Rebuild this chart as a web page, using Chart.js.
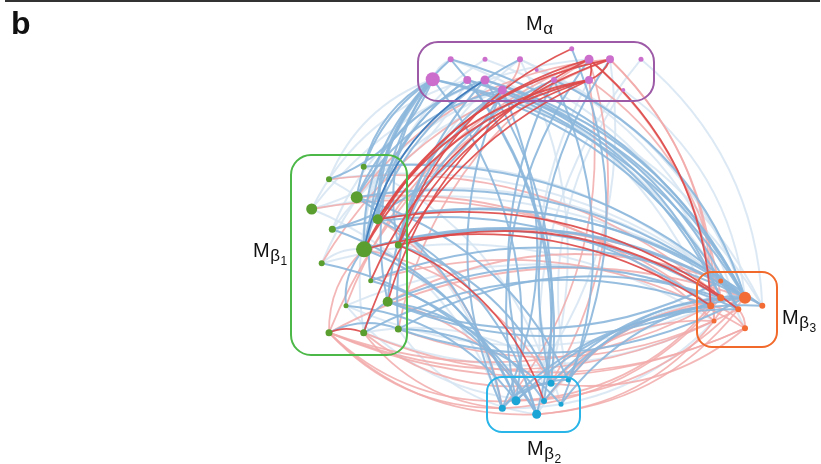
<!DOCTYPE html>
<html><head><meta charset="utf-8">
<script src="https://cdn.jsdelivr.net/npm/chart.js@4"></script>
<style>html,body{margin:0;padding:0;background:#fff;}#wrap{width:821px;height:464px;}</style>
</head><body><div id="wrap"><canvas id="c" width="821" height="464"></canvas></div>
<script>
// ---- nodes (layout coordinates) ----
const alphaX = [450.7,485,520,571.7,589,610,641,536.7,432.7,467.3,485,502.3,554,589,623.3];
const alphaY = [59.3,59.3,59.3,48.7,59.3,59.3,59.3,70,79.3,80,80,90,80,80,90];
const alphaSize = [3,2.5,3,2.5,4.5,4,2.5,2,7,4,4.5,4.5,3,4,2];

const beta1X = [363.7,329,356.7,311.7,377.7,332.3,364,398.3,321.7,370.7,387.7,346,329,363.7,398.3];
const beta1Y = [166.7,179.3,197.3,209,219.3,229.3,249.3,245,263.3,280.7,301.7,305.7,332.7,332.7,329];
const beta1Size = [3,3,6,5.5,5,3.5,8,3.5,3,2.5,5,2.5,3.5,3.5,3.5];

const beta3X = [720.7,720.7,745,710.7,738.3,762.3,714,745];
const beta3Y = [281,297.7,297.7,305.7,309.3,305.7,321,328.3];
const beta3Size = [2.5,3.5,6,3.5,3,3,2.5,3];

const beta2X = [551,568.3,516,502.3,544,561,536.7];
const beta2Y = [383.3,380,400.7,408.3,401,404.3,414.3];
const beta2Size = [3.5,2.5,4.5,3.5,3,2.5,4.5];

// ---- edges: source>target:kind  (B blue, L light blue, P pink, R red, D dark blue) ----
const edgeList = [
 // Mβ1 - Mα
 "g2>a8:B","g4>a8:B","g6>a8:B","g7>a8:B","g0>a8:B","g10>a8:B","g6>a9:B","g4>a9:B","g2>a10:B","g6>a10:B",
 "g7>a11:B","g10>a11:B","g4>a0:B","g6>a0:L","g1>a8:L","g3>a9:L","g5>a10:L","g8>a11:L","g9>a8:B","g14>a10:B",
 "g6>a2:B","g4>a1:L","g2>a11:B","g13>a8:L","g7>a12:B","g10>a2:L","a8>g1:B","a9>g3:L","g6>a10:D","a11>g5:B",
 "g6>a4:R","g4>a5:R","g7>a13:R","g10>a4:R","g2>a5:P","g6>a13:R","g9>a5:R","g14>a4:P","g4>a13:R","g12>a5:P",
 "g11>a4:P","g7>a3:R","g13>a13:R","g8>a5:P","g3>a4:L","g5>a13:L",
 // Mα - Mβ3
 "a8>o2:B","a9>o2:B","a10>o2:B","a11>o1:B","a0>o2:B","a10>o4:B","a11>o5:L","a2>o2:L","a1>o0:L","a8>o5:L",
 "a9>o7:L","a0>o3:L","a12>o2:B","a7>o2:L","a6>o5:L","a14>o2:L","a13>o1:P","a4>o3:R","a5>o6:P","a5>o3:P",
 "a4>o6:P","a8>o4:B","a9>o1:B","a2>o4:L",
 // Mα - Mβ2
 "a8>c2:B","a10>c6:B","a11>c3:B","a0>c0:B","a9>c4:B","c2>a4:B","c6>a12:B","c0>a5:B","a3>c1:B","c5>a13:L",
 "a2>c6:L","c4>a6:L","a13>c3:P","a5>c2:L","a4>c0:P","c3>a11:B","a12>c5:B","c1>a14:L",
 // Mβ1 - Mβ3
 "g2>o2:B","g4>o2:B","g6>o2:B","g6>o1:B","g7>o2:B","g10>o4:B","g3>o5:L","g0>o0:L","g1>o2:L","g5>o3:B",
 "g8>o6:L","g9>o2:B","g14>o1:B","g13>o3:B","g11>o4:L","g4>o4:R","g6>o3:R","g7>o1:R","g10>o0:P","g2>o6:P",
 "g3>o3:P","g1>o1:P","g12>o2:P","g6>o5:P","g9>o7:P","g0>o2:B","g4>o5:B","g2>o0:L",
 "o3>g12:P","o6>g12:P","o7>g13:P","o4>g14:P","o1>g10:B","o3>g11:L","o6>g13:L","o7>g12:P","o2>g14:B","o0>g10:B",
 // Mβ1 - Mβ2
 "c2>g12:P","c3>g12:P","c6>g12:P","c0>g13:P","c6>g14:L","c3>g13:P","c4>g11:L",
 "g6>c2:B","g4>c6:B","g7>c0:B","g2>c3:B","g10>c4:B","g5>c2:B","g9>c6:B","g3>c3:L","g0>c0:L","g8>c6:B",
 "g14>c5:B","g11>c2:B","g7>c4:R","g6>c0:P","g4>c3:P","g10>c6:P","g13>c1:L","g1>c3:L","g2>c1:B",
 // Mβ3 - Mβ2
 "o3>c2:P","o6>c6:P","o1>c3:P","o4>c6:P","o7>c0:P","o2>c2:P","o6>c3:L",
 "c0>o2:B","c1>o1:B","c4>o3:B","c5>o2:B","c2>o5:B","c6>o1:L","c3>o4:B","c0>o6:P","c1>o3:P","c4>o2:P",
 // within modules
 "g12>g13:R","g12>g6:P","g13>g10:B","g12>g14:B","g8>g6:L","g11>g6:B",
 "o6>o2:P","o3>o7:P","o0>o2:L","o1>o5:B","o4>o7:P",
 "a8>a0:L","a4>a13:R","a5>a13:R","a2>a11:P",
 "c3>c0:B","c2>c1:B"
];

const labelTexts = [["M","α",""],["M","β","1"],["M","β","3"],["M","β","2"]];

// ---- build datasets ----
const groups = {a:[alphaX,alphaY,alphaSize], g:[beta1X,beta1Y,beta1Size], o:[beta3X,beta3Y,beta3Size], c:[beta2X,beta2Y,beta2Size]};
const nodeColors = {a:'#cc6fcc', g:'#5a9e2f', o:'#f36b35', c:'#1aa5d6'};
function node(id){const g=groups[id[0]];const i=+id.slice(1);return {x:g[0][i],y:g[1][i]};}
const datasets = Object.keys(groups).map(k=>{
  const g=groups[k];
  return {label:k, data:g[0].map((x,i)=>({x:x,y:g[1][i]})), pointRadius:g[2], pointHoverRadius:g[2],
    backgroundColor:nodeColors[k], borderWidth:0, clip:false};
});

const edgeStyle = {
  L:{c:'rgba(214,229,242,0.85)',w:2},
  P:{c:'rgba(242,170,170,0.85)',w:1.8},
  B:{c:'rgba(140,183,219,0.9)',w:2},
  R:{c:'rgba(222,72,72,0.9)',w:1.8},
  D:{c:'rgba(60,120,185,0.95)',w:1.5}
};
const edgePlugin = {
  id:'edges',
  beforeDatasetsDraw(chart){
    const ctx=chart.ctx, xs=chart.scales.x, ys=chart.scales.y;
    ctx.save(); ctx.lineCap='round';
    ['L','P','B','R','D'].forEach(kind=>{
      edgeList.forEach(e=>{
        const [st,kd]=e.split(':'); if(kd!==kind) return;
        const [s,t]=st.split('>');
        const p=node(s), q=node(t);
        const x1=xs.getPixelForValue(p.x), y1=ys.getPixelForValue(p.y);
        const x2=xs.getPixelForValue(q.x), y2=ys.getPixelForValue(q.y);
        const dx=x2-x1, dy=y2-y1, k=0.22;
        const cx=(x1+x2)/2+k*dy, cy=(y1+y2)/2-k*dx;
        ctx.beginPath(); ctx.moveTo(x1,y1); ctx.quadraticCurveTo(cx,cy,x2,y2);
        ctx.strokeStyle=edgeStyle[kind].c; ctx.lineWidth=edgeStyle[kind].w; ctx.stroke();
      });
    });
    ctx.restore();
  }
};

// module frames and labels (layout)
const frames = [
  {x0:418,y0:42,x1:654,y1:101,r:20,c:'#9d5aa6'},
  {x0:291,y0:155,x1:407,y1:355,r:20,c:'#4cb848'},
  {x0:697,y0:272,x1:777,y1:347,r:15,c:'#f26a2b'},
  {x0:487,y0:377,x1:580,y1:432,r:15,c:'#29b5e8'}
];
const labelPos = [{x:526,y:30},{x:253,y:257},{x:782,y:324},{x:527,y:455}];

const framePlugin = {
  id:'frames',
  afterDatasetsDraw(chart){
    const ctx=chart.ctx, xs=chart.scales.x, ys=chart.scales.y;
    ctx.save();
    frames.forEach(f=>{
      const x0=xs.getPixelForValue(f.x0), x1=xs.getPixelForValue(f.x1);
      const y0=ys.getPixelForValue(f.y0), y1=ys.getPixelForValue(f.y1);
      ctx.beginPath(); ctx.roundRect(x0,y0,x1-x0,y1-y0,f.r);
      ctx.strokeStyle=f.c; ctx.lineWidth=2; ctx.stroke();
    });
    ctx.fillStyle='#111'; ctx.textBaseline='alphabetic';
    labelTexts.forEach((t,i)=>{
      const p=labelPos[i];
      let x=xs.getPixelForValue(p.x), y=ys.getPixelForValue(p.y);
      ctx.font='20px "Liberation Sans", Arial, sans-serif';
      ctx.fillText(t[0],x,y); x+=ctx.measureText(t[0]).width+0.5;
      ctx.font='17px "Liberation Sans", Arial, sans-serif';
      ctx.fillText(t[1],x,y+4); x+=ctx.measureText(t[1]).width+0.5;
      if(t[2]){ctx.font='12px "Liberation Sans", Arial, sans-serif'; ctx.fillText(t[2],x,y+8);}
    });
    ctx.font='bold 32px "Liberation Sans", Arial, sans-serif';
    ctx.fillText('b',11,34);
    ctx.beginPath(); ctx.moveTo(5,1); ctx.lineTo(820,1); ctx.strokeStyle='#333'; ctx.lineWidth=2; ctx.stroke();
    ctx.restore();
  }
};

new Chart(document.getElementById('c'),{
  type:'scatter',
  data:{datasets:datasets},
  options:{
    responsive:false, animation:false, events:[],
    layout:{padding:0, autoPadding:false},
    plugins:{legend:{display:false},tooltip:{enabled:false}},
    scales:{
      x:{type:'linear',min:0,max:821,display:false},
      y:{type:'linear',min:0,max:464,reverse:true,display:false}
    }
  },
  plugins:[edgePlugin,framePlugin]
});
</script></body></html>
